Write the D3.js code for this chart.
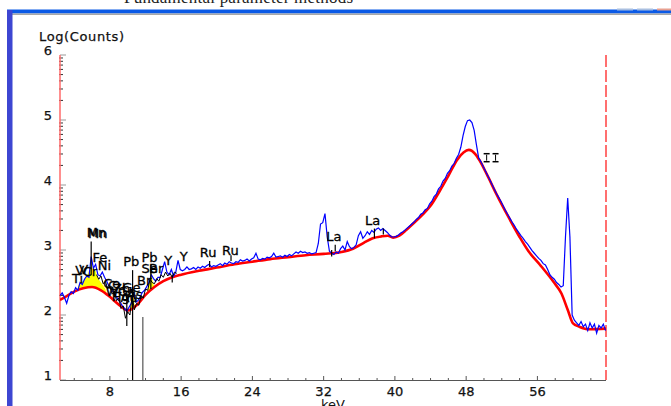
<!DOCTYPE html>
<html>
<head>
<meta charset="utf-8">
<script src="https://cdn.jsdelivr.net/npm/d3@7"></script>
<style>
body{margin:0;background:#fff;overflow:hidden}
svg{display:block}
text{font-family:"DejaVu Sans",sans-serif}
</style>
</head>
<body>
<script>
// spectrum channels: keV = E0 + i*DE, values are log10(counts)
var E0 = 2.4, DE = 0.25;
var spectrum = [
  2.30,2.34,2.27,2.18,2.30,2.36,2.33,2.42,2.38,2.50,2.47,2.55,2.60,2.58,2.90,2.72,2.78,2.62,2.60,2.66,
  2.58,2.52,2.44,2.40,2.34,2.30,2.24,2.20,2.14,2.10,2.06,2.12,2.18,2.36,2.20,2.22,2.28,2.35,2.38,2.44,
  2.50,2.62,2.56,2.52,2.58,2.58,2.70,2.82,2.66,2.62,2.70,2.60,2.66,2.84,2.70,2.68,2.70,2.74,2.70,2.71,
  2.73,2.70,2.74,2.72,2.75,2.73,2.76,2.78,2.74,2.76,2.75,2.77,2.79,2.76,2.80,2.78,2.82,2.80,2.79,2.82,
  2.81,2.85,2.83,2.84,2.86,2.83,2.86,2.88,2.95,2.86,2.85,2.87,2.86,2.89,2.88,2.90,2.95,2.89,2.90,2.91,
  2.89,2.92,2.90,2.93,2.91,2.94,2.97,2.95,2.98,2.96,2.97,2.95,2.96,2.94,2.95,2.96,3.10,3.40,3.42,3.56,
  3.20,2.98,2.95,2.93,2.97,2.95,3.02,3.06,3.00,3.13,3.05,3.02,3.04,3.08,3.22,3.28,3.18,3.22,3.28,3.24,
  3.30,3.27,3.32,3.34,3.30,3.33,3.30,3.27,3.23,3.20,3.20,3.21,3.23,3.26,3.28,3.31,3.34,3.37,3.40,3.43,
  3.47,3.50,3.55,3.57,3.62,3.64,3.71,3.75,3.82,3.86,3.94,3.98,4.06,4.10,4.18,4.22,4.29,4.33,4.41,4.47,
  4.58,4.76,4.90,4.99,5.00,4.96,4.84,4.62,4.42,4.36,4.29,4.22,4.15,4.08,4.01,3.94,3.87,3.81,3.75,3.68,
  3.61,3.55,3.49,3.43,3.38,3.32,3.27,3.22,3.18,3.13,3.09,3.04,2.99,2.95,2.91,2.87,2.84,2.79,2.77,2.70,
  2.62,2.58,2.55,2.50,2.47,2.43,2.45,3.20,3.80,3.20,2.00,1.92,1.88,1.84,1.90,1.82,1.86,1.76,1.88,1.80,
  1.86,1.72,1.84,1.80,1.86,1.76
];

// fitted continuum (red)
var bgKeV = [2.4,3,4,5,6,7,8,9,10,11,12,13,14,15,16,18,20,22,24,26,28,30,32,34,35.3,36.5,37.5,38.5,39.2,39.8,
  40.5,41.3,42,43,44,45,46,47,47.7,48.3,49,49.5,50.3,51.4,52.7,54,55,56.3,57.8,58.7,59.4,60,60.7,61.8,63.7];
var bgLog = [2.23,2.28,2.36,2.41,2.43,2.38,2.28,2.16,2.07,2.15,2.31,2.43,2.52,2.58,2.62,2.68,2.73,2.78,2.82,2.86,
  2.89,2.92,2.94,2.97,3.02,3.11,3.18,3.21,3.22,3.19,3.22,3.31,3.40,3.53,3.68,3.90,4.14,4.39,4.50,4.54,
  4.48,4.38,4.17,3.86,3.52,3.20,2.98,2.77,2.51,2.33,2.08,1.87,1.82,1.78,1.79];

// fitted peaks (yellow areas)
var fitKKeV = [4.3,4.5,4.75,5.0,5.25,5.5,5.75,5.9,6.1,6.4,6.6,6.9,7.2,7.5,7.6];
var fitKLog = [2.37,2.46,2.50,2.52,2.56,2.62,2.72,2.80,2.70,2.68,2.58,2.52,2.46,2.40,2.33];
var fitLaKeV = [10.3,10.55,10.8];
var fitLaLog = [2.10,2.40,2.12];
var fitLbKeV = [12.2,12.45,12.6,12.8,13.0];
var fitLbLog = [2.36,2.52,2.72,2.52,2.43];

// black trace over the low energy region
var traceE0 = 6.5;
var traceLog = [2.62,2.55,2.60,2.48,2.52,2.40,2.45,2.32,2.36,2.22,2.26,2.10,2.14,1.95,2.05,2.00,2.30,2.08,2.18,
  2.15,2.30,2.26,2.40,2.38,2.55,2.50,2.48,2.56,2.52,2.62,2.58,2.66,2.60,2.64,2.58,2.66,2.64];

// element lines
var markerKeV = [5.9, 9.9, 10.55, 11.7, 12.6, 15.0, 19.2, 21.6, 32.9, 33.3, 37.7, 38.7];
var markerTop = [3.13, 2.30, 2.69, 1.97, 2.77, 2.62, 2.83, 2.92, 3.00, 3.08, 3.33, 3.33];
var markerBot = [2.62, 1.83, 1.00, 1.00, 2.40, 2.50, 2.74, 2.83, 2.90, 2.98, 3.18, 3.24];

// element labels (left edge, baseline)
var labelText = ["Ti","V","V","Cr","Mn","Mn","Fe","Ni","Co","W","Cu","Zn","Hg","Ga","Ge","As","Au",
  "Pb","Pb","Se","Br","Br","Y","Y","Ru","Ru","La","La"];
var labelKeV = [3.75,4.1,4.55,4.95,5.4,5.55,6.05,6.65,7.25,7.55,7.8,8.35,8.2,8.9,9.4,9.9,9.2,
  9.5,11.55,11.55,12.4,11.05,14.1,15.85,18.1,20.6,32.3,36.65];
var labelLog = [2.49,2.62,2.63,2.60,3.20,3.18,2.82,2.69,2.42,2.30,2.38,2.34,2.22,2.30,2.35,2.25,2.20,
  2.75,2.82,2.65,2.65,2.46,2.77,2.83,2.89,2.92,3.14,3.38];

// I-beam markers near the main peak
var beamKeV = [50.3, 51.3];
var beamLog = [4.42, 4.42];

var xTicks = [8, 16, 24, 32, 40, 48, 56];
var yTicks = [1, 2, 3, 4, 5, 6];

var width = 671, height = 406;
var svg = d3.select("body").append("svg").attr("width", width).attr("height", height);

// window frame around the screenshot
svg.append("text").attr("x", 124).attr("y", 3).attr("textLength", 229)
  .style("font-family", "'Liberation Serif',serif").style("font-size", "17px").attr("fill", "#222")
  .text("Fundamental parameter methods");
svg.append("rect").attr("x", 7).attr("y", 9.5).attr("width", 664).attr("height", 4).attr("fill", "#0b5ae6");
svg.append("rect").attr("x", 12).attr("y", 13.5).attr("width", 659).attr("height", 1.5).attr("fill", "#a8a8a8");
svg.append("rect").attr("x", 7).attr("y", 10).attr("width", 5.5).attr("height", 396).attr("fill", "#3d46d2");
svg.append("rect").attr("x", 617).attr("y", 8.5).attr("width", 16).attr("height", 2).attr("fill", "#a9bfe0");
svg.append("rect").attr("x", 637).attr("y", 8.5).attr("width", 16).attr("height", 2).attr("fill", "#a9bfe0");
svg.append("rect").attr("x", 657).attr("y", 8.5).attr("width", 14).attr("height", 2).attr("fill", "#e8a090");

var x = d3.scaleLinear().domain([2.4, 63.7]).range([60, 606]);
var y = d3.scaleLinear().domain([1, 6]).range([380, 55]);
var bgAt = d3.scaleLinear().domain(bgKeV).range(bgLog);

svg.append("defs").append("clipPath").attr("id", "plot")
  .append("rect").attr("x", 60).attr("y", 40).attr("width", 546).attr("height", 340);

// axes
svg.append("text").attr("x", 39).attr("y", 41).attr("textLength", 85)
  .style("font-size", "13px").attr("fill", "#111").attr("stroke", "#111").attr("stroke-width", 0.25)
  .text("Log(Counts)");

var minor = [];
d3.range(1, 6).forEach(function (d) {
  d3.range(2, 10).forEach(function (k) { minor.push(d + Math.log10(k)); });
});
svg.append("g").selectAll("line").data(minor).enter().append("line")
  .attr("x1", 59).attr("x2", 63).attr("y1", function (d) { return y(d); }).attr("y2", function (d) { return y(d); })
  .attr("stroke", "#333").attr("stroke-width", 1);
svg.append("g").selectAll("line").data(yTicks).enter().append("line")
  .attr("x1", 60).attr("x2", 66).attr("y1", function (d) { return y(d); }).attr("y2", function (d) { return y(d); })
  .attr("stroke", "#999").attr("stroke-width", 1);
svg.append("g").selectAll("text").data(yTicks).enter().append("text")
  .attr("x", 52).attr("y", function (d) { return y(d); }).attr("text-anchor", "end")
  .style("font-size", "13px").attr("fill", "#111").attr("stroke", "#111").attr("stroke-width", 0.25)
  .text(function (d) { return d; });

svg.append("line").attr("x1", 60).attr("x2", 60).attr("y1", 55).attr("y2", 380)
  .attr("stroke", "#ff6a6a").attr("stroke-width", 1.5);
svg.append("line").attr("x1", 606).attr("x2", 606).attr("y1", 55).attr("y2", 380)
  .attr("stroke", "#ff4040").attr("stroke-width", 1.5).attr("stroke-dasharray", "12,3");

svg.append("line").attr("x1", 60).attr("x2", 606).attr("y1", 380.5).attr("y2", 380.5)
  .attr("stroke", "#555").attr("stroke-width", 1);
svg.append("g").selectAll("line").data(d3.range(4, 64, 2)).enter().append("line")
  .attr("x1", function (d) { return x(d); }).attr("x2", function (d) { return x(d); })
  .attr("y1", 380).attr("y2", function (d) { return d % 8 == 0 ? 376 : 378; })
  .attr("stroke", "#555").attr("stroke-width", 1);
svg.append("g").selectAll("text").data(xTicks).enter().append("text")
  .attr("x", function (d) { return x(d); }).attr("y", 396).attr("text-anchor", "middle")
  .style("font-size", "13px").attr("fill", "#111").attr("stroke", "#111").attr("stroke-width", 0.25)
  .text(function (d) { return d; });
svg.append("text").attr("x", 333).attr("y", 409).attr("text-anchor", "middle")
  .style("font-size", "13px").attr("fill", "#111").text("keV");

var plot = svg.append("g").attr("clip-path", "url(#plot)");

// yellow peak areas
var area = d3.area()
  .x(function (d) { return x(d[0]); })
  .y0(function (d) { return y(bgAt(d[0])); })
  .y1(function (d) { return y(Math.max(d[1], bgAt(d[0]))); });
[[fitKKeV, fitKLog], [fitLaKeV, fitLaLog], [fitLbKeV, fitLbLog]].forEach(function (p) {
  plot.append("path").datum(d3.zip(p[0], p[1])).attr("d", area).attr("fill", "#ffff00");
});

// continuum
plot.append("path").datum(d3.zip(bgKeV, bgLog))
  .attr("d", d3.line().curve(d3.curveMonotoneX).x(function (d) { return x(d[0]); }).y(function (d) { return y(d[1]); }))
  .attr("fill", "none").attr("stroke", "#ff0000").attr("stroke-width", 2.6);

// measured spectrum
var line = d3.line().x(function (d, i) { return x(E0 + i * DE); }).y(function (d) { return y(d); });
plot.append("path").datum(spectrum).attr("d", line)
  .attr("fill", "none").attr("stroke", "#0000ff").attr("stroke-width", 1.2);

var traceLine = d3.line().x(function (d, i) { return x(traceE0 + i * DE); }).y(function (d) { return y(d); });
plot.append("path").datum(traceLog).attr("d", traceLine)
  .attr("fill", "none").attr("stroke", "#000").attr("stroke-width", 1);

// element lines
plot.append("g").selectAll("line").data(markerKeV).enter().append("line")
  .attr("x1", function (d) { return x(d); }).attr("x2", function (d) { return x(d); })
  .attr("y1", function (d, i) { return y(markerTop[i]); }).attr("y2", function (d, i) { return y(markerBot[i]); })
  .attr("stroke", function (d, i) { return i == 3 ? "#555" : "#000"; }).attr("stroke-width", 1.2);

// labels
svg.append("g").selectAll("text").data(labelText).enter().append("text")
  .attr("x", function (d, i) { return x(labelKeV[i]); })
  .attr("y", function (d, i) { return y(labelLog[i]); })
  .style("font-size", "13px").attr("fill", "#000").attr("stroke", "#000").attr("stroke-width", 0.3)
  .text(function (d) { return d; });

// I-beam markers
var beams = svg.append("g").attr("stroke", "#000").attr("stroke-width", 1.5);
beamKeV.forEach(function (k, i) {
  var cx = x(k), cy = y(beamLog[i]);
  beams.append("line").attr("x1", cx - 3).attr("x2", cx + 3).attr("y1", cy - 4).attr("y2", cy - 4);
  beams.append("line").attr("x1", cx).attr("x2", cx).attr("y1", cy - 3).attr("y2", cy + 3).attr("stroke-width", 1);
  beams.append("line").attr("x1", cx - 3).attr("x2", cx + 3).attr("y1", cy + 4).attr("y2", cy + 4);
});
</script>
</body>
</html>
